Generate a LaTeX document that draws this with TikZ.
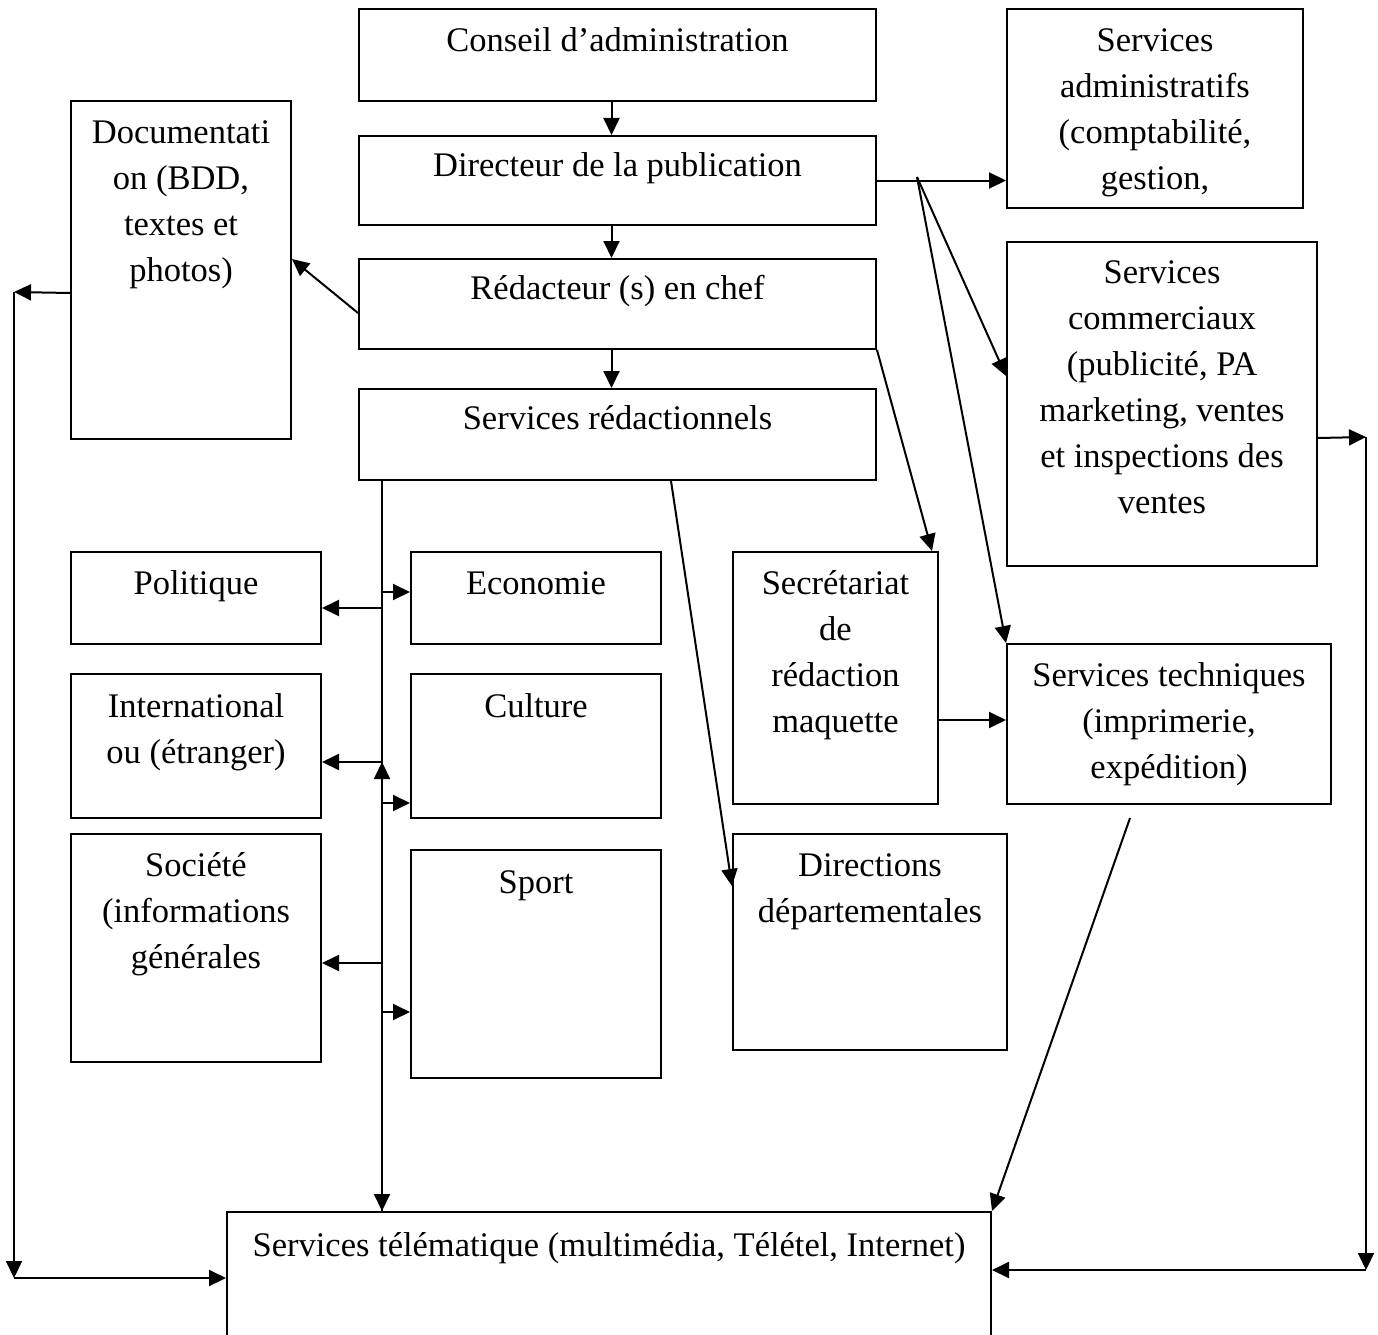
\documentclass[tikz,border=0pt]{standalone}
\usepackage{fontspec}
\setmainfont{Liberation Serif}
\usetikzlibrary{arrows.meta,calc}
\tikzset{
  box/.style={draw, line width=2pt, anchor=north west, inner sep=0pt, minimum width=#1},
  txt/.style={font=\fontsize{34.5}{46}\selectfont, align=center, inner sep=0pt, anchor=north},
  arr/.style={line width=2pt, -{Triangle[length=17pt,width=16pt]}},
  ln/.style={line width=2pt}
}
\newcommand{\fs}{\rule{0pt}{34pt}}
\begin{document}
\begin{tikzpicture}[x=1pt,y=-1pt]
\clip (0,0) rectangle (1378,1335);
\fill[white] (0,0) rectangle (1378,1335);
% boxes
\node[box=517, minimum height=92] (conseil) at (358,8) {};
\node[box=517, minimum height=89] (dir) at (358,135) {};
\node[box=517, minimum height=90] (redac) at (358,258) {};
\node[box=517, minimum height=91] (servred) at (358,388) {};
\node[box=220, minimum height=338] (doc) at (70,100) {};
\node[box=296, minimum height=199] (admin) at (1006,8) {};
\node[box=310, minimum height=324] (comm) at (1006,241) {};
\node[box=250, minimum height=92] (pol) at (70,551) {};
\node[box=250, minimum height=92] (eco) at (410,551) {};
\node[box=250, minimum height=144] (intl) at (70,673) {};
\node[box=250, minimum height=144] (cult) at (410,673) {};
\node[box=250, minimum height=228] (soc) at (70,833) {};
\node[box=250, minimum height=228] (sport) at (410,849) {};
\node[box=205, minimum height=252] (secr) at (732,551) {};
\node[box=324, minimum height=160] (tech) at (1006,643) {};
\node[box=274, minimum height=216] (dirdep) at (732,833) {};
\node[box=764, minimum height=150] (tele) at (226,1211) {};
% texts
\node[txt] (conseilT) at ([yshift=-9pt]conseil.north) {\fs Conseil d’administration};
\node[txt] (dirT) at ([yshift=-7pt]dir.north) {\fs Directeur de la publication};
\node[txt] (redacT) at ([yshift=-7pt]redac.north) {\fs Rédacteur (s) en chef};
\node[txt] (servredT) at ([yshift=-7pt]servred.north) {\fs Services rédactionnels};
\node[txt] (docT) at ([yshift=-9pt]doc.north) {\fs Documentati\\on (BDD,\\textes et\\photos)};
\node[txt] (adminT) at ([yshift=-9pt]admin.north) {\fs Services\\administratifs\\(comptabilité,\\gestion,};
\node[txt] (commT) at ([yshift=-8pt]comm.north) {\fs Services\\commerciaux\\(publicité, PA\\marketing, ventes\\et inspections des\\ventes};
\node[txt] (polT) at ([yshift=-9pt]pol.north) {\fs Politique};
\node[txt] (ecoT) at ([yshift=-9pt]eco.north) {\fs Economie};
\node[txt] (intlT) at ([yshift=-10pt]intl.north) {\fs International\\ou (étranger)};
\node[txt] (cultT) at ([yshift=-10pt]cult.north) {\fs Culture};
\node[txt] (socT) at ([yshift=-9pt]soc.north) {\fs Société\\(informations\\générales};
\node[txt] (sportT) at ([yshift=-10pt]sport.north) {\fs Sport};
\node[txt] (secrT) at ([yshift=-9pt]secr.north) {\fs Secrétariat\\de\\rédaction\\maquette};
\node[txt] (techT) at ([yshift=-9pt]tech.north) {\fs Services techniques\\(imprimerie,\\expédition)};
\node[txt] (dirdepT) at ([yshift=-9pt]dirdep.north) {\fs Directions\\départementales};
\node[txt] (teleT) at ([yshift=-11pt]tele.north) {\fs Services télématique (multimédia, Télétel, Internet)};
% coordinates
\coordinate (H) at (917,177);
\coordinate (L1) at (14,292);
\coordinate (L2) at (14,1278);
\coordinate (R1) at (1366,437);
\coordinate (R2) at (1366,1270);
\coordinate (bTop) at (382,479);
\coordinate (bPol) at (382,608);
\coordinate (bEco) at (382,592);
\coordinate (bInt) at (382,762);
\coordinate (bCul) at (382,803);
\coordinate (bSoc) at (382,963);
\coordinate (bSpo) at (382,1012);
\coordinate (tS) at (1130,818);
\coordinate (sT) at (937,720);
% top chain
\draw[arr] ([xshift=-6pt]conseil.south) -- ([xshift=-6pt]dir.north);
\draw[arr] ([xshift=-6pt]dir.south) -- ([xshift=-6pt]redac.north);
\draw[arr] ([xshift=-6pt]redac.south) -- ([xshift=-6pt]servred.north);
% documentation
\draw[arr] ([yshift=-9pt]redac.west) -- ([yshift=11pt]doc.east);
\draw[arr] ([yshift=-23pt]doc.west) -- (L1);
\draw[arr] (L1) -- (L2);
\draw[arr] (L2) -- (L2 -| tele.west);
% directeur branches
\draw[arr] (dir.east) -- (dir.east -| admin.west);
\draw[arr] (H) -- ([yshift=28pt]comm.west);
\draw[arr] (H) -- (tech.north west);
\draw[arr] (redac.south east) -- ([xshift=-7pt]secr.north east);
\draw[arr] ([xshift=53.5pt]servred.south) -- ([yshift=56pt]dirdep.west);
% bus
\draw[arr] (bTop) -- (bTop |- tele.north);
\draw[arr] (bTop |- tele.north) -- (bInt);
\draw[arr] (bPol) -- (bPol -| pol.east);
\draw[arr] (bEco) -- (bEco -| eco.west);
\draw[arr] (bInt) -- (bInt -| intl.east);
\draw[arr] (bCul) -- (bCul -| cult.west);
\draw[arr] (bSoc) -- (bSoc -| soc.east);
\draw[arr] (bSpo) -- (bSpo -| sport.west);
% right side
\draw[arr] (sT) -- (sT -| tech.west);
\draw[arr] (tS) -- (tele.north east);
\draw[arr] ([yshift=-34pt]comm.east) -- (R1);
\draw[arr] (R1) -- (R2);
\draw[arr] (R2) -- (R2 -| tele.east);
\end{tikzpicture}
\end{document}
